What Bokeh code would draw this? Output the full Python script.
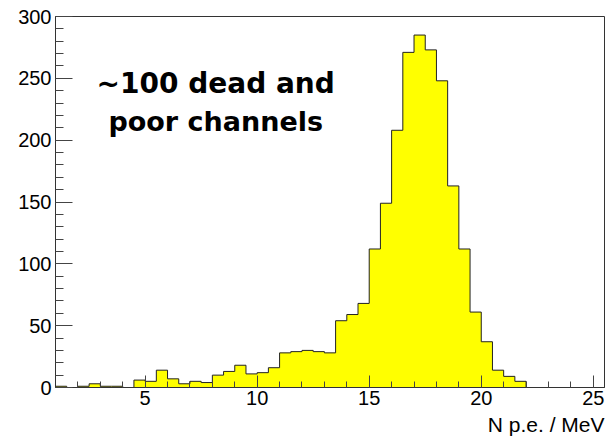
import numpy as np
from bokeh.plotting import figure
from bokeh.models import Range1d, SingleIntervalTicker, Label, Title
from bokeh.embed import file_html
from bokeh.resources import INLINE

# Histogram of photoelectron yield per MeV: 0.5-wide bins from 1 to 25.5
bin_lo = 1.0
bin_width = 0.5
counts = [1, 0, 1, 3, 1, 1, 0, 6, 5, 14,
          7, 3, 5, 4, 10, 13, 18, 11, 12, 16,
          28, 29, 30, 29, 28, 54, 59, 68, 112, 149,
          208, 271, 285, 273, 248, 163, 112, 61, 37, 14,
          9, 5, 0, 0, 0, 0, 0, 0, 0]
x_label = "N p.e. / MeV"
note_lines = ["~100 dead and", "poor channels"]

counts = np.array(counts, dtype=float)
edges = bin_lo + bin_width * np.arange(len(counts) + 1)

p = figure(frame_width=549, frame_height=371, output_backend="svg",
           toolbar_location=None,
           x_range=Range1d(edges[0], edges[-1]), y_range=Range1d(0, 300),
           min_border_left=55, min_border_right=1, min_border_top=16,
           min_border_bottom=0)
p.background_fill_color = "white"
p.border_fill_color = "white"
p.outline_line_color = "#333333"
p.outline_line_width = 1
p.xgrid.visible = False
p.ygrid.visible = False

# histogram outline built from the bin edges and counts
ox = np.repeat(edges, 2)
oy = np.concatenate([[0], np.repeat(counts, 2), [0]])

# filled area (one patch, so no seams between bins) and its contour
p.patch(ox, oy, fill_color="#ffff00", line_color=None)
p.line(ox, oy, line_color="#222222", line_width=1)

# axes, ROOT-like inward ticks
p.xaxis.ticker = SingleIntervalTicker(interval=5, num_minor_ticks=5)
p.yaxis.ticker = SingleIntervalTicker(interval=50, num_minor_ticks=5)
for ax in (p.xaxis[0], p.yaxis[0]):
    ax.axis_line_color = "#333333"
    ax.major_tick_line_color = "#444444"
    ax.minor_tick_line_color = "#444444"
    ax.major_tick_out = 0
    ax.minor_tick_out = 0
    ax.major_label_text_font = "Liberation Sans"
    ax.major_label_text_font_size = "20px"
    ax.major_label_text_color = "black"
p.yaxis.major_tick_in = 17
p.yaxis.minor_tick_in = 8
p.yaxis.major_label_standoff = 4
p.xaxis.major_tick_in = 12
p.xaxis.minor_tick_in = 6
p.xaxis.major_label_standoff = 3

# x-axis title, right aligned under the axis end
p.add_layout(Title(text=x_label, align="right", text_font="Liberation Sans",
                   text_font_size="21px", text_font_style="normal",
                   text_color="black", standoff=6, offset=0), "below")

# annotation
for text, yv, size in zip(note_lines, [245.8, 215.0], ["28px", "27px"]):
    p.add_layout(Label(x=8.15, y=yv, text=text, text_align="center",
                       text_baseline="middle", text_font="DejaVu Sans",
                       text_font_style="bold", text_font_size=size,
                       text_color="black"))

open("out.html", "w").write(file_html(p, INLINE))
